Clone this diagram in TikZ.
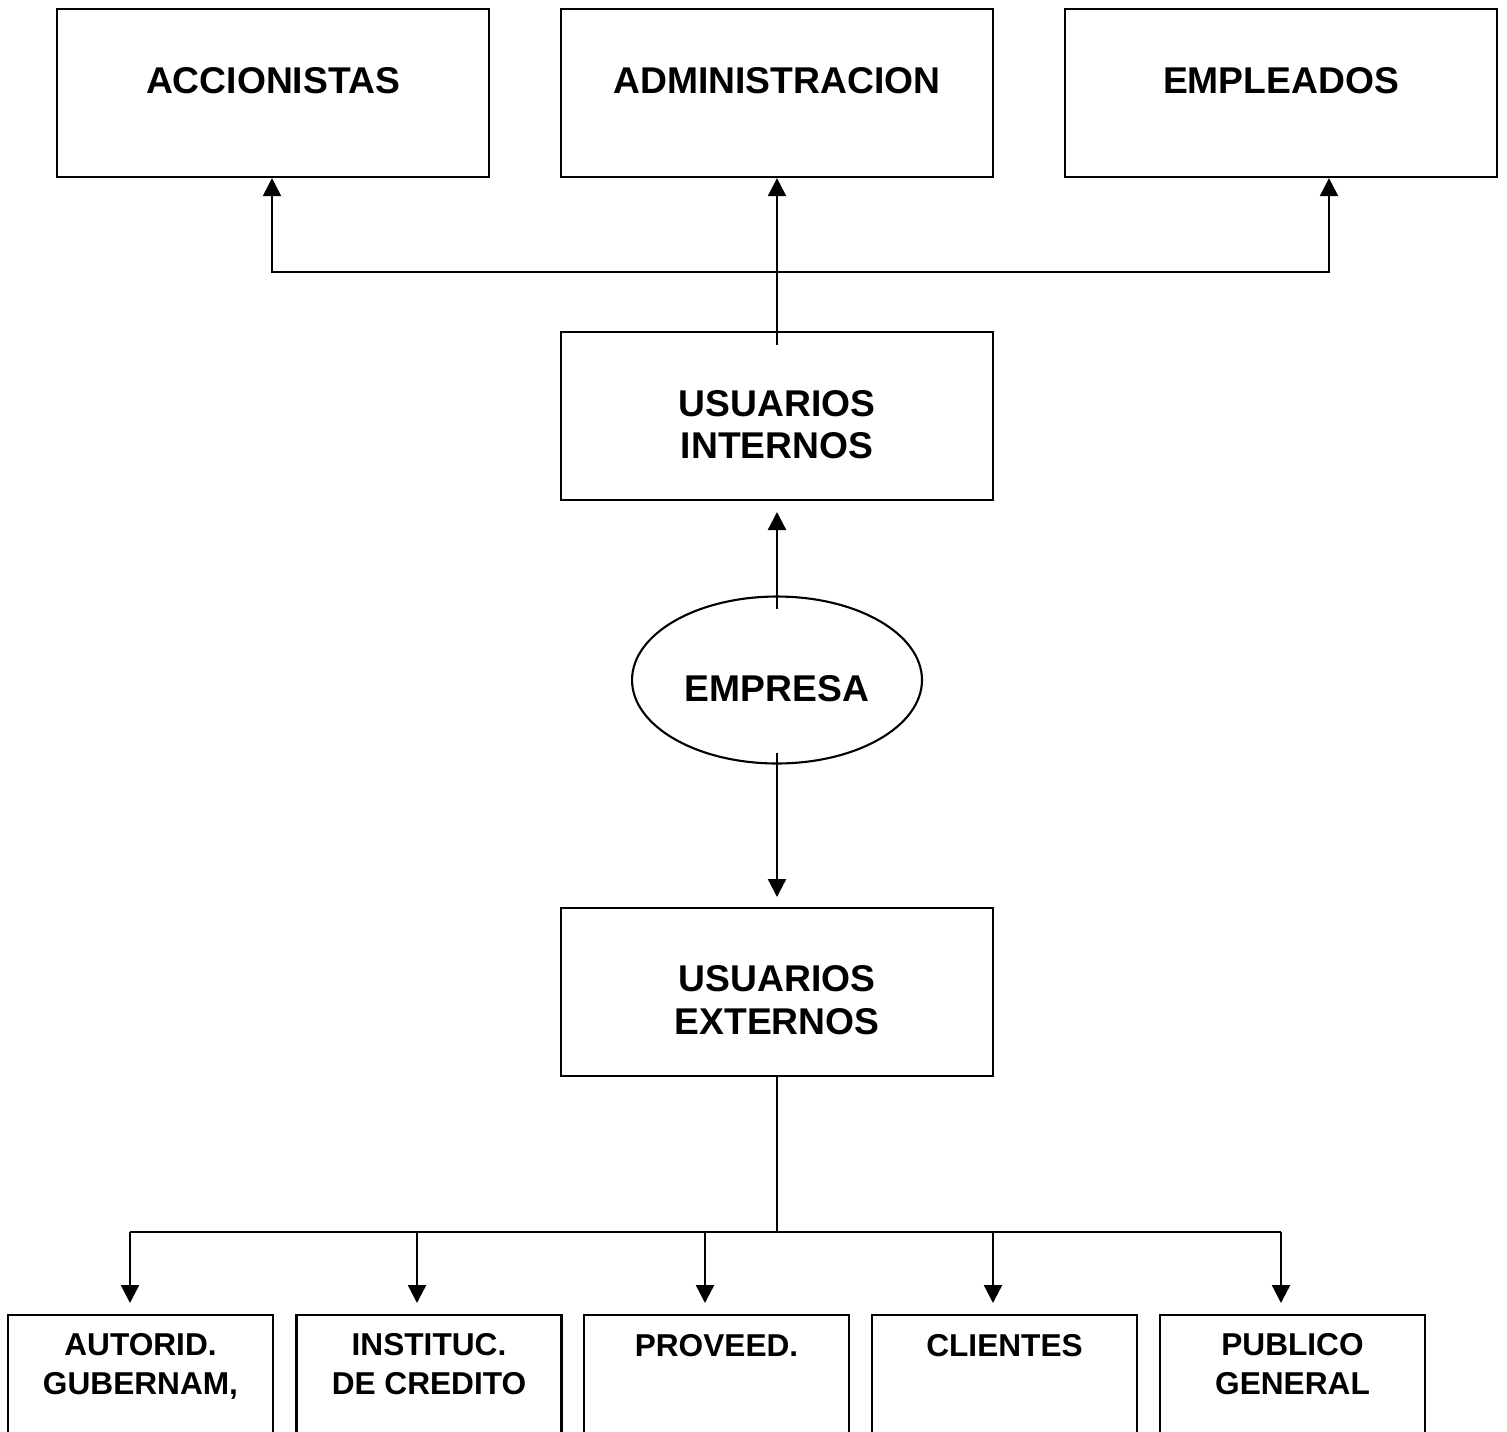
\documentclass[tikz,border=0pt]{standalone}
\usepackage{fontspec}
\setmainfont{Liberation Sans}
\usetikzlibrary{arrows.meta,shapes.geometric}
\begin{document}
\begin{tikzpicture}[x=0.02cm,y=-0.02cm,
  line width=1.3pt,
  box/.style={draw,line width=1.3pt,rectangle,inner sep=0pt},
  bigtxt/.style={anchor=base,inner sep=0pt,font=\fontsize{21.2}{24}\selectfont\bfseries},
  smalltxt/.style={anchor=base,inner sep=0pt,font=\fontsize{18}{21}\selectfont\bfseries},
  arr/.style={-{Triangle[width=0.36cm,length=0.36cm]}},
]
\useasboundingbox (0,0) rectangle (1507,1431);
% top boxes
\node[box,minimum width=8.64cm,minimum height=3.36cm] (acc) at (273,93) {};
\node[box,minimum width=8.64cm,minimum height=3.36cm] (adm) at (777,93) {};
\node[box,minimum width=8.64cm,minimum height=3.36cm] (emp) at (1281,93) {};
\node[bigtxt] (tacc) at (273,93) {ACCIONISTAS};
\node[bigtxt] (tadm) at (777,93) {ADMINISTRACION};
\node[bigtxt] (temp) at (1281,93) {EMPLEADOS};
% usuarios internos
\node[box,minimum width=8.64cm,minimum height=3.36cm] (int) at (777,416) {};
\node[bigtxt] (tint1) at (777,416) {USUARIOS};
\node[bigtxt] (tint2) at (777,458) {INTERNOS};
% empresa
\node[draw,ellipse,line width=1.2pt,minimum width=5.8cm,minimum height=3.34cm,inner sep=0pt] (empresa) at (777,680) {};
\node[bigtxt] (tempresa) at (777,701) {EMPRESA};
% usuarios externos
\node[box,minimum width=8.64cm,minimum height=3.36cm] (ext) at (777,992) {};
\node[bigtxt] (text1) at (777,991) {USUARIOS};
\node[bigtxt] (text2) at (777,1034) {EXTERNOS};
% bottom boxes
\node[box,anchor=north,minimum width=5.3cm,minimum height=3cm] (b1) at (140.5,1314) {};
\node[box,anchor=north,minimum width=5.3cm,minimum height=3cm] (b2) at (429,1314) {};
\node[box,anchor=north,minimum width=5.3cm,minimum height=3cm] (b3) at (716.5,1314) {};
\node[box,anchor=north,minimum width=5.3cm,minimum height=3cm] (b4) at (1004.5,1314) {};
\node[box,anchor=north,minimum width=5.3cm,minimum height=3cm] (b5) at (1292.5,1314) {};
\node[smalltxt] (tb1a) at (140.5,1355) {AUTORID.};
\node[smalltxt] (tb1b) at (140.5,1394) {GUBERNAM,};
\node[smalltxt] (tb2a) at (429,1355) {INSTITUC.};
\node[smalltxt] (tb2b) at (429,1394) {DE CREDITO};
\node[smalltxt] (tb3) at (716.5,1356) {PROVEED.};
\node[smalltxt] (tb4) at (1004.5,1356) {CLIENTES};
\node[smalltxt] (tb5a) at (1292.5,1355) {PUBLICO};
\node[smalltxt] (tb5b) at (1292.5,1394) {GENERAL};
% connectors top
\coordinate (intin) at (777,345);
\coordinate (hl) at (272,272);
\coordinate (hr) at (1329,272);
\draw[arr] (intin) -- (adm.south);
\draw[arr] (hr) -- (hl) -- (hl |- acc.south);
\draw[arr] (hl) -- (hr) -- (hr |- emp.south);
% empresa to internos
\coordinate (eup) at (777,609);
\coordinate (intb) at (777,512);
\draw[arr] (eup) -- (intb);
% empresa to externos
\coordinate (edn) at (777,753);
\coordinate (extt) at (777,897);
\draw[arr] (edn) -- (extt);
% externos to bottom
\coordinate (bj) at (777,1232);
\coordinate (bl) at (130,1232);
\coordinate (br) at (1281,1232);
\draw (ext.south) -- (bj);
\draw (bl) -- (br);
\draw[arr] (bl) -- (130,1303);
\draw[arr] (417,1232) -- (417,1303);
\draw[arr] (705,1232) -- (705,1303);
\draw[arr] (993,1232) -- (993,1303);
\draw[arr] (br) -- (1281,1303);
\end{tikzpicture}
\end{document}
